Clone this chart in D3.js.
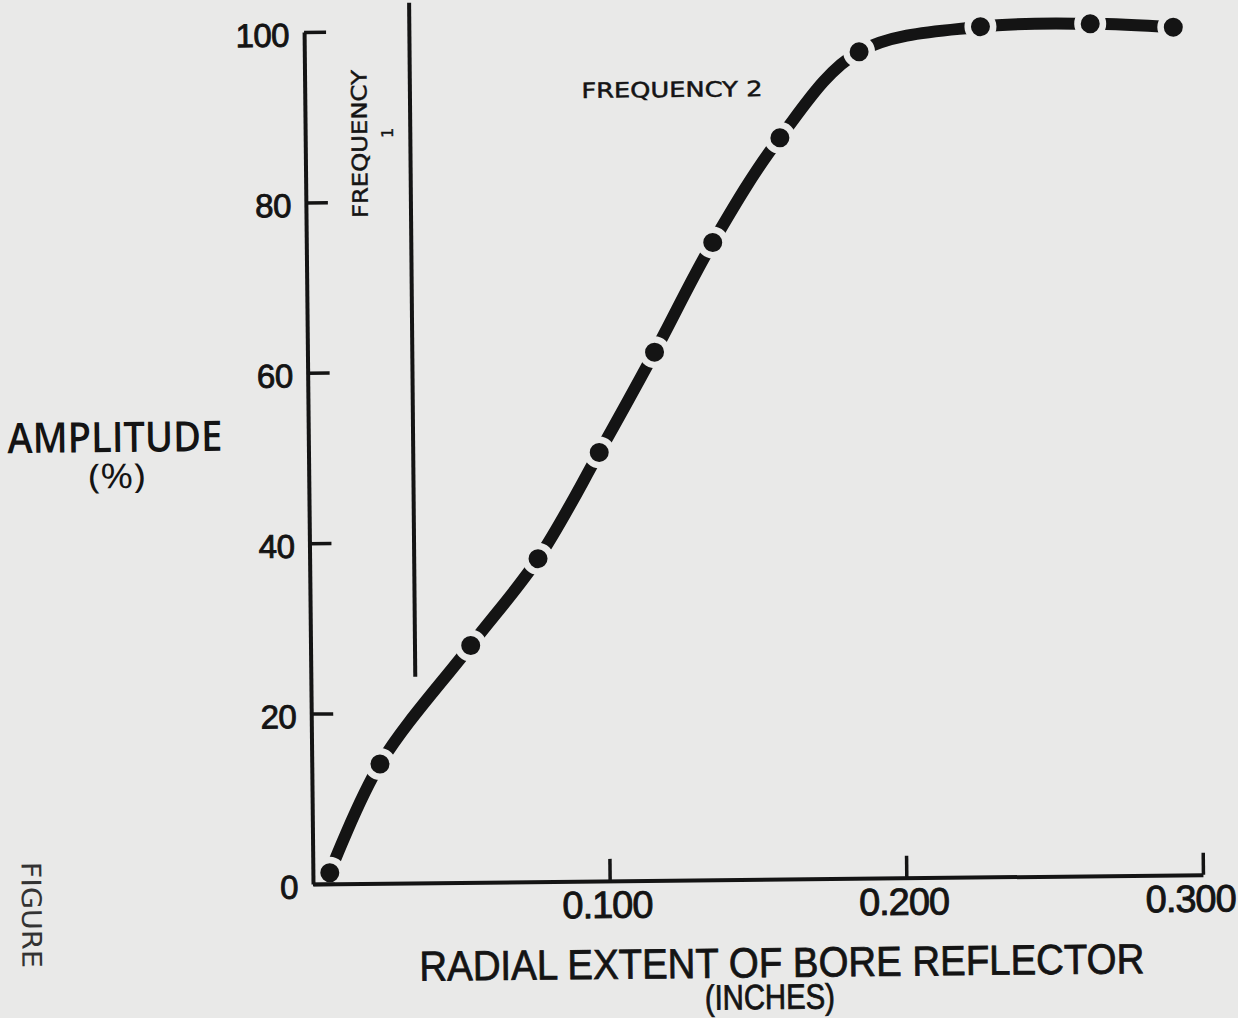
<!DOCTYPE html>
<html>
<head>
<meta charset="utf-8">
<script src="https://cdn.jsdelivr.net/npm/d3@7/dist/d3.min.js"></script>
<style>
  html, body { margin: 0; padding: 0; background: #e9e9e8; }
  svg { display: block; }
</style>
</head>
<body>
<script>
// ---- data ----
const radialExtent = [0.0057, 0.023, 0.054, 0.077, 0.098, 0.117, 0.137, 0.160, 0.187, 0.228, 0.265, 0.293];
const amplitude    = [1.3, 14.0, 27.8, 37.9, 50.3, 62.0, 74.8, 87.0, 97.0, 99.8, 100.0, 99.5];
const freq1X = [0.0352, 0.0355];
const freq1Y = [24.2, 103.3];
const xTicks = [0.1, 0.2, 0.3];
const xTickLabels = ["0.100", "0.200", "0.300"];
const yTicks = [0, 20, 40, 60, 80, 100];
const yTickLabels = ["0", "20", "40", "60", "80", "100"];

// ---- layout ----
const W = 1238, H = 1018;
const ox = 313, oy = 884, tilt = -0.6;
const ink = "#141414";

const svg = d3.select("body").append("svg").attr("width", W).attr("height", H);
svg.append("rect").attr("width", W).attr("height", H).attr("fill", "#e9e9e8");

const g = svg.append("g").attr("transform", `translate(${ox},${oy}) rotate(${tilt})`);

const x = d3.scaleLinear().domain([0, 0.3]).range([0, 890]);
const y = d3.scaleLinear().domain([0, 100]).range([0, -852]);

// y axis
const yAxis = d3.axisLeft(y).tickValues(yTicks)
  .tickFormat((d, i) => yTickLabels[i]).tickSizeInner(-22).tickSizeOuter(0).tickPadding(15);
const ya = g.append("g").call(yAxis);
ya.select(".domain").attr("stroke", ink).attr("stroke-width", 4);
ya.selectAll(".tick line").attr("stroke", ink).attr("stroke-width", 3.5);
ya.selectAll(".tick text").attr("fill", ink).attr("stroke", ink).attr("stroke-width", 0.9)
  .style("font-family", "'Liberation Sans', Arial, sans-serif").style("font-size", "33px")
  .attr("dy", "0.42em").style("letter-spacing", "-0.5px");

// x axis
const xAxis = d3.axisBottom(x).tickValues(xTicks)
  .tickFormat((d, i) => xTickLabels[i]).tickSizeInner(-22).tickSizeOuter(0).tickPadding(10);
const xa = g.append("g").call(xAxis);
xa.select(".domain").attr("stroke", ink).attr("stroke-width", 4);
xa.selectAll(".tick line").attr("stroke", ink).attr("stroke-width", 3.5);
xa.selectAll(".tick text").attr("fill", ink).attr("stroke", ink).attr("stroke-width", 0.9)
  .style("font-family", "'Liberation Sans', Arial, sans-serif").style("font-size", "38px")
  .style("letter-spacing", "-1px")
  .attr("dx", (d, i) => i === xTicks.length - 1 ? -13 : -3);

// frequency 1 line
const f1 = freq1X.map((v, i) => [v, freq1Y[i]]);
g.append("path").datum(f1)
  .attr("d", d3.line().x(d => x(d[0])).y(d => y(d[1])))
  .attr("stroke", ink).attr("stroke-width", 4).attr("fill", "none");

// curve with gaps around the dots
const pts = radialExtent.map((v, i) => [v, amplitude[i]]);
const defs = svg.append("defs");
const mask = defs.append("mask").attr("id", "gapmask")
  .attr("maskUnits", "userSpaceOnUse")
  .attr("x", -600).attr("y", -1200).attr("width", 2600).attr("height", 2600);
mask.append("rect").attr("x", -600).attr("y", -1200).attr("width", 2600).attr("height", 2600).attr("fill", "white");
mask.selectAll("circle").data(pts).join("circle")
  .attr("cx", d => x(d[0])).attr("cy", d => y(d[1])).attr("r", 16).attr("fill", "black");

g.append("path").datum(pts)
  .attr("d", d3.line().x(d => x(d[0])).y(d => y(d[1])).curve(d3.curveCatmullRom.alpha(0.5)))
  .attr("stroke", ink).attr("stroke-width", 12).attr("fill", "none")
  .attr("stroke-linecap", "butt").attr("mask", "url(#gapmask)");

g.selectAll("circle.dot").data(pts).join("circle").attr("class", "dot")
  .attr("cx", d => x(d[0])).attr("cy", d => y(d[1])).attr("r", 9.5).attr("fill", ink);

// ---- text labels ----
function label(txt, px, py, opts) {
  const t = svg.append("text").text(txt)
    .attr("x", px).attr("y", py)
    .attr("text-anchor", "middle")
    .attr("fill", opts.fill || ink)
    .style("font-family", opts.family)
    .style("font-size", opts.size + "px")
    .style("font-weight", opts.weight || "normal");
  if (opts.stroke) t.attr("stroke", opts.fill || ink).attr("stroke-width", opts.stroke);
  if (opts.len) t.attr("textLength", opts.len).attr("lengthAdjust", "spacingAndGlyphs");
  t.attr("transform", `rotate(${(opts.rot || 0) + tilt},${px},${py})`);
  return t;
}
const sans = "'Liberation Sans', Arial, sans-serif";
label("AMPLITUDE", 115, 452, {family: "'Open Sans', sans-serif", size: 42, weight: 600, len: 215});
label("(%)", 117, 488, {family: "'Open Sans', sans-serif", size: 34, weight: 500, len: 57});
label("RADIAL EXTENT OF BORE REFLECTOR", 782, 977, {family: sans, size: 42, len: 725, stroke: 0.8});
label("(INCHES)", 770, 1009, {family: sans, size: 35, len: 130, stroke: 0.8});
label("FREQUENCY 2", 672, 97, {family: "'DejaVu Sans', sans-serif", size: 21, len: 181, stroke: 0.5});
label("FREQUENCY", 367, 144, {family: "'DejaVu Sans', sans-serif", size: 21, len: 148, rot: -90, stroke: 0.5});
label("1", 393, 133, {family: "'DejaVu Sans', sans-serif", size: 16, rot: -90, stroke: 0.4});
label("FIGURE", 22, 915, {family: "'DejaVu Sans', sans-serif", size: 27, len: 106, rot: 90, fill: "#333"});
</script>
</body>
</html>
